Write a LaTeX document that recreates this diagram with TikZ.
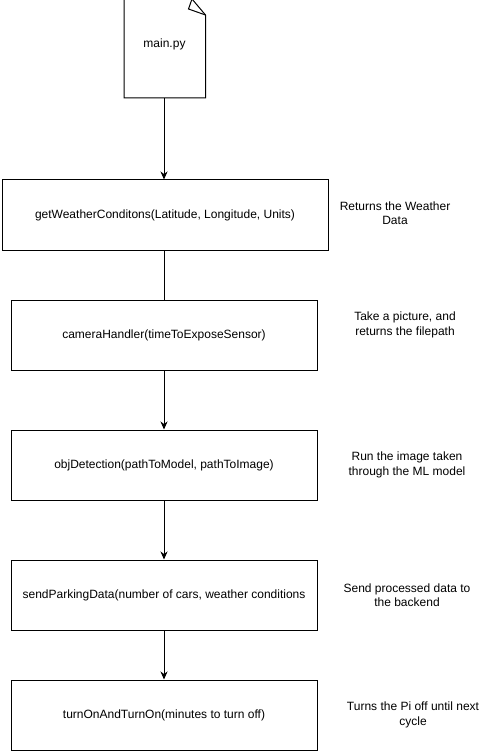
\documentclass[tikz,border=0pt]{standalone}
\usepackage{fontspec}
\setmainfont{Liberation Sans}
\usetikzlibrary{arrows.meta}
\begin{document}
\begin{tikzpicture}[x=1pt,y=-1pt,
  box/.style={draw=black,line width=1pt,minimum width=306pt,minimum height=70pt,inner sep=0pt,font=\fontsize{12}{14}\selectfont},
  note/.style={align=center,font=\fontsize{12}{14.5}\selectfont,inner sep=0pt},
  conn/.style={draw=black,line width=1pt},
  arr/.style={conn,-{Stealth[length=8pt,width=7pt,inset=2.5pt]}}]
\useasboundingbox (0,0) rectangle (488,751);
% document shape
\draw[line width=1pt] (124,-1) -- (192,-1) -- (205.5,15) -- (205.5,98) -- (124,98) -- cycle;
\draw[line width=1pt] (192,-1) -- (188.5,9) -- (205.5,15);
\node[inner sep=0pt,font=\fontsize{12}{14}\selectfont] (doc) at (164.5,44) {main.py};
\coordinate (docb) at (164,98);
% boxes
\node[box,minimum width=326pt] (b1) at (165,215) {getWeatherConditons(Latitude, Longitude, Units)};
\node[box] (b2) at (164,335) {cameraHandler(timeToExposeSensor)};
\node[box] (b3) at (164,465) {objDetection(pathToModel, pathToImage)};
\node[box] (b4) at (164,595) {sendParkingData(number of cars, weather conditions};
\node[box] (b5) at (164,715) {turnOnAndTurnOn(minutes to turn off)};
% notes
\node[note] (n1) at (395,213) {Returns the Weather\\Data};
\node[note] (n2) at (405,325) {Take a picture, and\\returns the filepath};
\node[note] (n3) at (407,465) {Run the image taken\\through the ML model};
\node[note] (n4) at (407,595) {Send processed data to\\the backend};
\node[note] (n5) at (413,715) {Turns the Pi off until next\\cycle};
% connectors
\draw[arr] (docb) -- (b1.north -| docb);
\draw[conn] (b1.south -| b2.north) -- (b2.north);
\draw[arr] (b2) -- (b3);
\draw[arr] (b3) -- (b4);
\draw[arr] (b4) -- (b5);
\end{tikzpicture}
\end{document}
